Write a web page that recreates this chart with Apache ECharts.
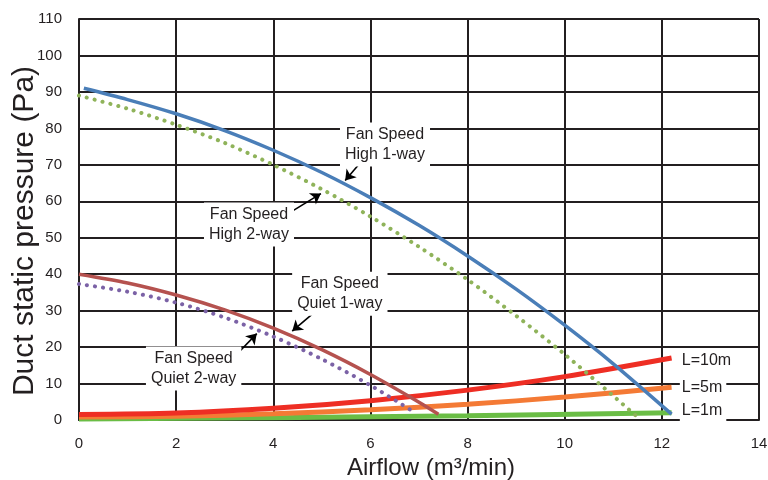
<!DOCTYPE html>
<html><head><meta charset="utf-8">
<script src="https://cdn.jsdelivr.net/npm/echarts@6/dist/echarts.min.js"></script>
<style>html,body{margin:0;padding:0;background:#fff}#c{width:768px;height:480px}</style>
</head><body><div id="c"></div>
<script>
// ---- data ----
const xTicks = [0, 2, 4, 6, 8, 10, 12, 14];
const yTicks = [0, 10, 20, 30, 40, 50, 60, 70, 80, 90, 100, 110];

const high1X = [0.1, 1, 2, 3, 4, 5, 6, 7, 8, 9, 10, 11, 12.2];
const high1Y = [91, 87.9, 84, 79.4, 74, 67.9, 61, 53.4, 45, 35.9, 26, 15.4, 1.6];

const high2X = [0, 1, 2, 3, 4, 5, 6, 7, 8, 9, 10, 11, 11.55];
const high2Y = [89, 85.4, 81, 76, 70, 63.3, 55.8, 47.5, 38.5, 28.6, 18, 6.6, 0.2];

const quiet1X = [0, 1, 2, 3, 4, 5, 6, 7, 7.4];
const quiet1Y = [40, 37.6, 34.3, 30.2, 25.2, 19.3, 12.5, 4.9, 1.6];

const quiet2X = [0, 1, 2, 3, 4, 5, 6, 6.86];
const quiet2Y = [37.3, 35.2, 32.2, 28.1, 22.9, 16.7, 9.5, 2.5];

const l10X = [0, 2, 4, 6, 8, 10, 12.2];
const l10Y = [1.5, 1.9, 3.2, 5.3, 8.2, 11.9, 17];
const l5X = [0, 2, 4, 6, 8, 10, 12.2];
const l5Y = [0.8, 1.0, 1.7, 2.8, 4.3, 6.3, 9];
const l1X = [0, 4, 8, 12.2];
const l1Y = [0.3, 0.6, 1.2, 2];

const sysLabels = ['L=10m', 'L=5m', 'L=1m'];
const sysLabelAt = [[12.37, 16.4], [12.37, 9.0], [12.37, 2.6]];

const fanLabels = ['Fan Speed\nHigh 1-way', 'Fan Speed\nHigh 2-way', 'Fan Speed\nQuiet 1-way', 'Fan Speed\nQuiet 2-way'];
const fanLabelAt = [[6.30, 75.6], [3.5, 53.6], [5.37, 34.6], [2.36, 14.1]];
const arrowFrom = [[5.76, 70.1], [4.34, 56.9], [4.79, 28.9], [3.21, 17.5]];
const arrowTo = [[5.48, 65.7], [4.98, 62.1], [4.39, 24.4], [3.66, 23.7]];

// ---- chart ----
const pairs = (xs, ys) => xs.map((x, i) => [x, ys[i]]);
const ink = '#231f20';
const tickFont = '"Liberation Sans Narrow", "Liberation Sans", Arial, sans-serif';
const font = '"Liberation Sans", Arial, Helvetica, sans-serif';

function lineSeries(name, xs, ys, color, width, dotted) {
  return {
    name, type: 'line', data: pairs(xs, ys), smooth: 0.3, showSymbol: false, symbol: 'none',
    lineStyle: dotted
      ? { color, width: 4, type: [0.1, 8], cap: 'round' }
      : { color, width, cap: 'butt' },
    silent: true, animation: false, z: 3
  };
}

const series = [
  lineSeries('L=1m', l1X, l1Y, '#6abd45', 5),
  lineSeries('L=5m', l5X, l5Y, '#f47a35', 5),
  lineSeries('L=10m', l10X, l10Y, '#ee2e24', 5),
  lineSeries('Quiet 1-way', quiet1X, quiet1Y, '#b5524f', 3.5),
  lineSeries('Quiet 2-way', quiet2X, quiet2Y, '#7b62a6', 0, true),
  lineSeries('High 2-way', high2X, high2Y, '#8fb35a', 0, true),
  lineSeries('High 1-way', high1X, high1Y, '#4a7eb8', 3.5),
];

// annotations
series.push({
  type: 'line', data: [], silent: true, animation: false, z: 5,
  markPoint: {
    symbol: 'rect', symbolSize: 1, itemStyle: { color: 'rgba(0,0,0,0)' }, animation: false,
    label: {
      show: true, position: 'inside', color: ink, fontFamily: font, fontSize: 16, lineHeight: 20,
      backgroundColor: '#fff', padding: [2, 5, 2, 5], align: 'center', verticalAlign: 'middle'
    },
    data: fanLabels.map((t, i) => ({ coord: fanLabelAt[i], value: t, label: { formatter: t } }))
      .concat(sysLabels.map((t, i) => ({
        coord: sysLabelAt[i], value: t,
        label: { formatter: t, align: 'left', padding: [1, 4, 1, 2] }
      })))
  },
  markLine: {
    silent: true, animation: false, symbol: ['none', 'arrow'], symbolSize: 10,
    lineStyle: { color: '#000', width: 1.6, type: 'solid' },
    label: { show: false },
    data: arrowFrom.map((f, i) => [{ coord: f, symbol: 'none' }, { coord: arrowTo[i], symbol: 'arrow', symbolSize: 10 }])
  }
});

const chart = echarts.init(document.getElementById('c'), null, { renderer: 'canvas' });
chart.setOption({
  animation: false,
  backgroundColor: '#fff',
  grid: { left: 79, right: 9, top: 19, bottom: 60, containLabel: false, outerBoundsMode: 'none' },
  xAxis: {
    type: 'value', min: xTicks[0], max: xTicks[xTicks.length - 1], interval: 2,
    name: 'Airflow (m³/min)', nameLocation: 'middle', nameGap: 36, nameMoveOverlap: false,
    nameTextStyle: { fontFamily: font, fontSize: 24, color: ink, padding: [0, 0, 0, 24] },
    axisLine: { show: true, lineStyle: { color: ink, width: 2 } },
    axisTick: { show: false },
    axisLabel: { color: ink, fontFamily: tickFont, fontSize: 15, margin: 16 },
    splitLine: { show: true, lineStyle: { color: ink, width: 2 } }
  },
  yAxis: {
    type: 'value', min: yTicks[0], max: yTicks[yTicks.length - 1], interval: 10,
    name: 'Duct static pressure (Pa)', nameLocation: 'middle', nameGap: 39, nameMoveOverlap: false,
    nameTextStyle: { fontFamily: font, fontSize: 30, color: ink, padding: [0, 23, 0, 0] },
    axisLine: { show: true, lineStyle: { color: ink, width: 2 } },
    axisTick: { show: false },
    axisLabel: { color: ink, fontFamily: tickFont, fontSize: 15, margin: 17 },
    splitLine: { show: true, lineStyle: { color: ink, width: 2 } }
  },
  series
});
</script>
</body></html>
